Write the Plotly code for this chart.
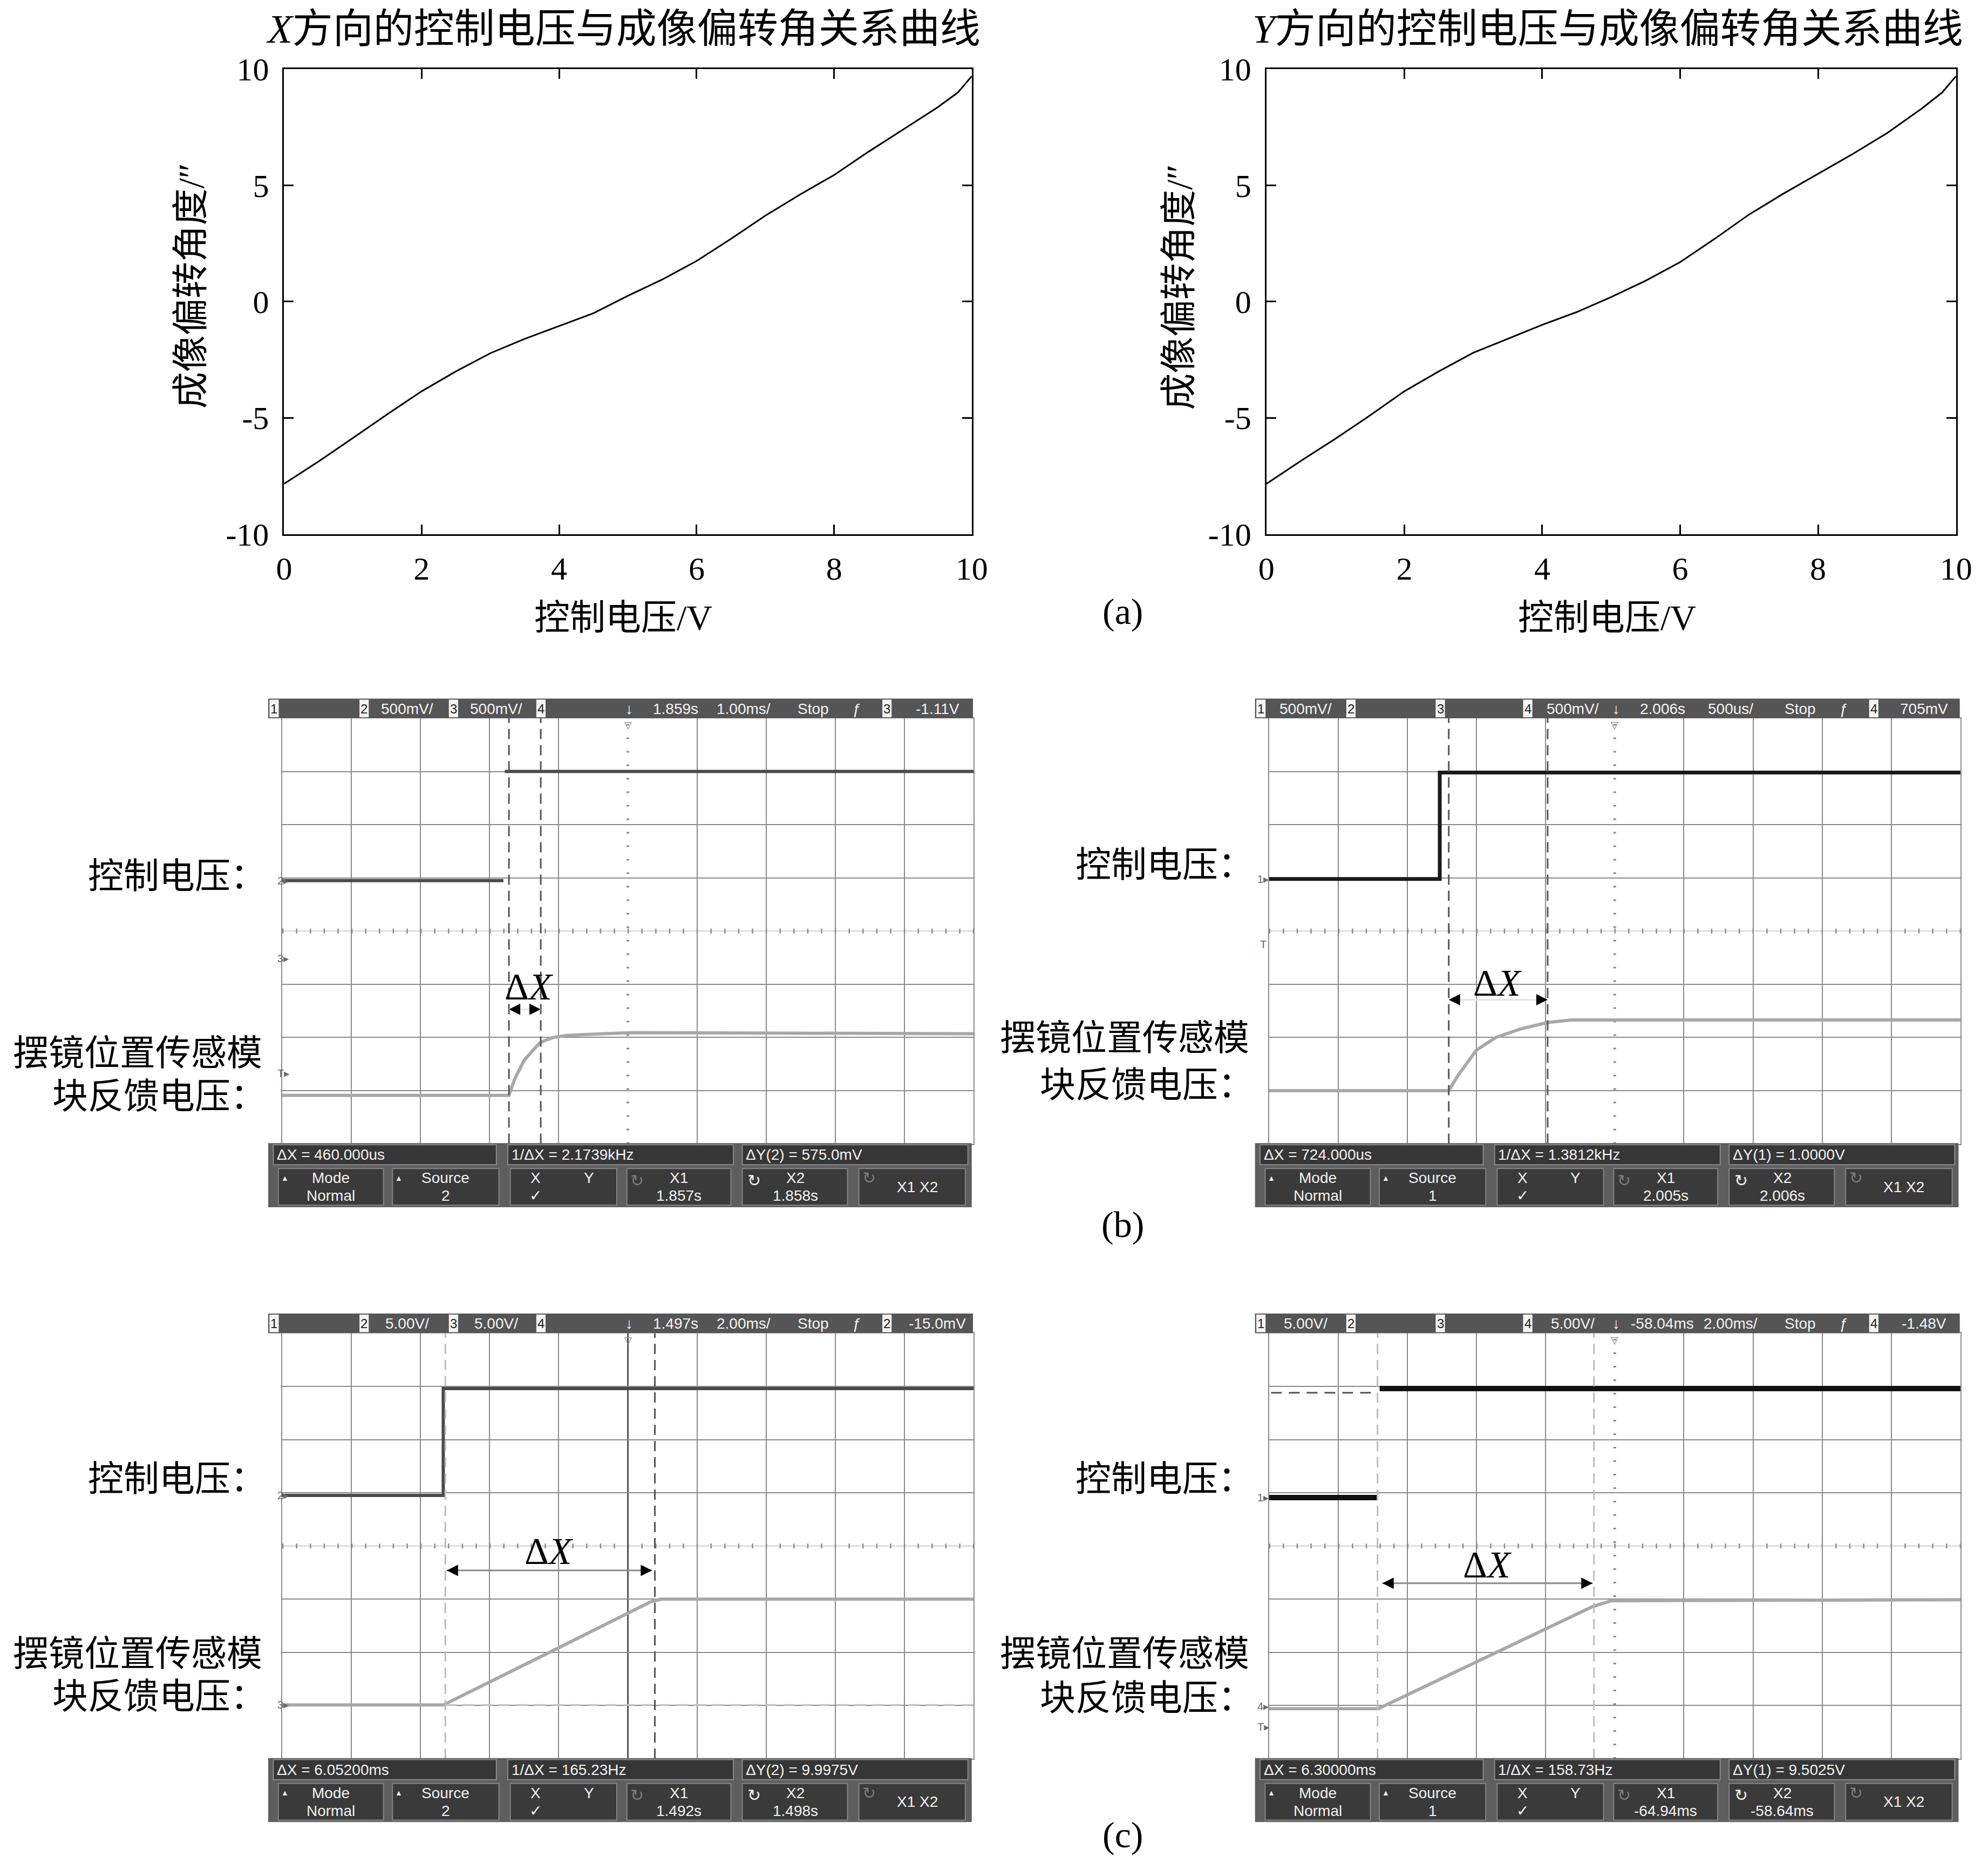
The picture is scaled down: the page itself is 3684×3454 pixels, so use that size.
import plotly.graph_objects as go

# ------------------------------------------------------------------ data
# (a) control voltage (V) vs imaging deflection angle (")
volt = [0, 0.5, 1, 1.5, 2, 2.5, 3, 3.5, 4, 4.5, 5, 5.5, 6, 6.5, 7, 7.5, 8, 8.5, 9, 9.5, 9.8, 10]
angle_x = [-7.84, -6.88, -5.87, -4.85, -3.86, -3.0, -2.22, -1.6, -1.05, -0.5, 0.25, 0.95,
           1.75, 2.7, 3.7, 4.6, 5.45, 6.45, 7.4, 8.35, 9.0, 9.7]
angle_y = [-7.84, -6.85, -5.9, -4.9, -3.86, -3.0, -2.2, -1.6, -1.0, -0.45, 0.2, 0.9,
           1.7, 2.7, 3.75, 4.65, 5.5, 6.35, 7.25, 8.3, 9.0, 9.7]
tick_x = [0, 2, 4, 6, 8, 10]
tick_y = [-10, -5, 0, 5, 10]
tick_y_text = ["-10", "-5", "0", "5", "10"]

# oscilloscope traces, in screen divisions (time: 0..10, voltage: 0..8)
bl_ctrl_t = [0.0, 3.20, None, 3.22, 10.0]
bl_ctrl_v = [4.95, 4.95, None, 7.00, 7.00]
bl_fb_t = [0.0, 3.28, 3.36, 3.50, 3.67, 3.74, 3.92, 4.12, 4.65, 5.06, 10.0]
bl_fb_v = [0.91, 0.91, 1.21, 1.57, 1.82, 1.91, 2.00, 2.04, 2.07, 2.09, 2.07]
bl_cursor_t = [3.28, 3.74]
bl_header = ["", "500mV/", "500mV/", "", "1.859s", "1.00ms/", "3", "-1.11V"]
bl_readout = ["ΔX = 460.000us", "1/ΔX = 2.1739kHz", "ΔY(2) = 575.0mV"]
bl_buttons = ["2", "1.857s", "1.858s"]

br_ctrl_t = [0.0, 2.47, 2.47, 10.0]
br_ctrl_v = [4.98, 4.98, 6.98, 6.98]
br_fb_t = [0.0, 2.60, 2.73, 3.00, 3.28, 3.64, 4.03, 4.38, 10.0]
br_fb_v = [1.00, 1.00, 1.28, 1.76, 2.00, 2.16, 2.28, 2.33, 2.33]
br_cursor_t = [2.60, 4.03]
br_header = ["500mV/", "", "", "500mV/", "2.006s", "500us/", "4", "705mV"]
br_readout = ["ΔX = 724.000us", "1/ΔX = 1.3812kHz", "ΔY(1) = 1.0000V"]
br_buttons = ["1", "2.005s", "2.006s"]

cl_ctrl_t = [0.0, 2.33, 2.33, 10.0]
cl_ctrl_v = [4.95, 4.95, 6.96, 6.96]
cl_fb_t = [0.0, 2.33, 3.82, 5.33, 5.48, 10.0]
cl_fb_v = [1.01, 1.01, 1.97, 2.95, 3.00, 3.00]
cl_cursor_t = [2.36, 5.39]
cl_ycursor_v = 1.01
cl_header = ["", "5.00V/", "5.00V/", "", "1.497s", "2.00ms/", "2", "-15.0mV"]
cl_readout = ["ΔX = 6.05200ms", "1/ΔX = 165.23Hz", "ΔY(2) = 9.9975V"]
cl_buttons = ["2", "1.492s", "1.498s"]

cr_ctrl_t = [0.0, 1.56, None, 1.60, 10.0]
cr_ctrl_v = [4.91, 4.91, None, 6.96, 6.96]
cr_fb_t = [0.0, 1.58, 4.68, 4.95, 10.0]
cr_fb_v = [0.94, 0.94, 2.86, 2.97, 2.99]
cr_cursor_t = [1.57, 4.70]
cr_ycursor_v = 6.88
cr_header = ["5.00V/", "", "", "5.00V/", "-58.04ms", "2.00ms/", "4", "-1.48V"]
cr_readout = ["ΔX = 6.30000ms", "1/ΔX = 158.73Hz", "ΔY(1) = 9.5025V"]
cr_buttons = ["1", "-64.94ms", "-58.64ms"]

# ------------------------------------------------------------------ helpers
W, H = 3684, 3454
S = W / 1568.0
# small empirical correction of the layout grid
KX, BX = 0.988, 9.2
KY, BY = 0.982, 17.4


def fx(d):
    return ((d - BX) / KX) * S / W


def fy(d):
    return 1.0 - ((d - BY) / KY) * S / H


SERIF = "Liberation Serif, Times New Roman, Noto Sans CJK SC, serif"
CJK = "Liberation Serif, Noto Sans CJK SC, serif"
SANS = "Liberation Sans, Arial, DejaVu Sans, sans-serif"
HF = 28  # scope UI font size

shapes = []
annos = []


def prect(x0, y0, x1, y1, fill, line=None, lw=0):
    shapes.append(dict(type='rect', xref='paper', yref='paper',
                       x0=fx(x0), x1=fx(x1), y0=fy(y1), y1=fy(y0),
                       fillcolor=fill, line=dict(color=line or fill, width=lw),
                       layer='above'))


def ptext(xd, yd, text, size, color='black', family=SANS, xanchor='center', **kw):
    annos.append(dict(xref='paper', yref='paper', x=fx(xd), y=fy(yd), text=text,
                      showarrow=False, xanchor=xanchor, yanchor='middle',
                      font=dict(size=size, color=color, family=family), **kw))


fig = go.Figure()

# ------------------------------------------------------------------ (a) curves
fig.add_trace(go.Scatter(x=volt, y=angle_x, mode='lines', line=dict(color='black', width=3),
                         xaxis='x', yaxis='y', hoverinfo='skip'))
fig.add_trace(go.Scatter(x=volt, y=angle_y, mode='lines', line=dict(color='black', width=3),
                         xaxis='x2', yaxis='y2', hoverinfo='skip'))

line_common = dict(showline=True, linecolor='black', linewidth=3, mirror='ticks',
                   ticks='inside', ticklen=18, tickwidth=3, tickcolor='black',
                   showgrid=False, zeroline=False, fixedrange=True,
                   tickfont=dict(family=SERIF, size=60, color='black'))

layout_axes = {}
for i, (xl, xr) in enumerate([(223.5, 766.0), (998.5, 1542.5)]):
    xn = 'xaxis' if i == 0 else 'xaxis2'
    yn = 'yaxis' if i == 0 else 'yaxis2'
    xs = 'x' if i == 0 else 'x2'
    ys = 'y' if i == 0 else 'y2'
    layout_axes[xn] = dict(domain=[fx(xl), fx(xr)], range=[0, 10], tickvals=tick_x,
                           anchor=ys, ticklabelstandoff=9, **line_common)
    layout_axes[yn] = dict(domain=[fy(422.0), fy(55.0)], range=[-10, 10], tickvals=tick_y,
                           ticktext=tick_y_text, anchor=xs, ticklabelstandoff=13, **line_common)

ptext(491, 23, "<i>X</i>方向的控制电压与成像偏转角关系曲线", 75, family=CJK)
ptext(1268, 23, "<i>Y</i>方向的控制电压与成像偏转角关系曲线", 75, family=CJK)
ptext(491, 488, "控制电压/V", 66, family=CJK)
ptext(1267, 488, "控制电压/V", 66, family=CJK)
ptext(150, 226, "成像偏转角度/″", 68, family=CJK, textangle=-90)
ptext(929.5, 227, "成像偏转角度/″", 68, family=CJK, textangle=-90)
ptext(885, 483, "(a)", 68, family=SERIF)
ptext(885, 967, "(b)", 68, family=SERIF)
ptext(885, 1449, "(c)", 68, family=SERIF)

# ------------------------------------------------------------------ scopes
SCOPES = [
    dict(x0=211.0, top=552.0, xa='x3', ya='y3',
         ctrl=(bl_ctrl_t, bl_ctrl_v), fb=(bl_fb_t, bl_fb_v), cur=bl_cursor_t,
         hdr=bl_header, rd=bl_readout, btn=bl_buttons,
         ctrl_color='#4a4a4a', ctrl_w=6, cur_color='#555555', vcenter='dot',
         dx_text=(3.57, 2.95), dx_arrow=(bl_cursor_t[0], bl_cursor_t[1], 2.53), shaft='#e6e6e6',
         marks=[("2▸", 4.95), ("3▸", 3.49), ("T▸", 1.32)],
         lab=(692, 832, 866, 207)),
    dict(x0=989.5, top=552.0, xa='x4', ya='y4',
         ctrl=(br_ctrl_t, br_ctrl_v), fb=(br_fb_t, br_fb_v), cur=br_cursor_t,
         hdr=br_header, rd=br_readout, btn=br_buttons,
         ctrl_color='#1a1a1a', ctrl_w=7, cur_color='#555555', vcenter='dot',
         dx_text=(3.31, 3.02), dx_arrow=(br_cursor_t[0], br_cursor_t[1], 2.71), shaft='#e6e6e6',
         marks=[("1▸", 4.98), ("T", 3.75)],
         lab=(683, 820, 857, 986)),
    dict(x0=211.0, top=1037.5, xa='x5', ya='y5',
         ctrl=(cl_ctrl_t, cl_ctrl_v), fb=(cl_fb_t, cl_fb_v), cur=cl_cursor_t,
         hdr=cl_header, rd=cl_readout, btn=cl_buttons,
         ctrl_color='#4a4a4a', ctrl_w=6, cur_color=['#bdbdbd', '#555555'], vcenter='solid',
         dx_text=(3.86, 3.90), dx_arrow=(2.38, 5.35, 3.54), shaft='#8a8a8a',
         marks=[("2▸", 4.95), ("3▸", 1.01)],
         ycur=(cl_ycursor_v, cl_cursor_t[0], 10.0, '#c4c4c4'),
         lab=(1168, 1306, 1340, 207)),
    dict(x0=989.5, top=1037.5, xa='x6', ya='y6',
         ctrl=(cr_ctrl_t, cr_ctrl_v), fb=(cr_fb_t, cr_fb_v), cur=cr_cursor_t,
         hdr=cr_header, rd=cr_readout, btn=cr_buttons,
         ctrl_color='#111111', ctrl_w=10, cur_color='#bdbdbd', vcenter='dot',
         dx_text=(3.16, 3.65), dx_arrow=(1.64, 4.68, 3.30), shaft='#8a8a8a',
         marks=[("1▸", 4.91), ("4▸", 0.98), ("T▸", 0.60)],
         ycur=(cr_ycursor_v, 0.03, cr_ctrl_t[1], '#555555'),
         lab=(1168, 1306, 1341, 986)),
]

GRID = '#8a8a8a'
HDR_BOX = [1.0, 72.0, 142.5, 211.5]
HDR_CH_TXT = [40.0, 109.5, 180.0, 250.5]

for p in SCOPES:
    x0, top, xa, ya = p['x0'], p['top'], p['xa'], p['ya']
    gx0, gx1 = x0 + 11.0, x0 + 556.5
    gy0, gy1 = top + 15.5, top + 351.5
    n = xa[1:]
    layout_axes['xaxis' + n] = dict(domain=[fx(gx0), fx(gx1)], range=[0, 10], anchor=ya,
                                    tickvals=[1, 2, 3, 4, 6, 7, 8, 9], showgrid=True,
                                    gridcolor=GRID, gridwidth=2, showline=True, mirror=True,
                                    linecolor=GRID, linewidth=2, zeroline=False,
                                    showticklabels=False, ticks='', fixedrange=True)
    layout_axes['yaxis' + n] = dict(domain=[fy(gy1), fy(gy0)], range=[0, 8], anchor=xa,
                                    tickvals=[1, 2, 3, 5, 6, 7], showgrid=True,
                                    gridcolor=GRID, gridwidth=2, showline=True, mirror=True,
                                    linecolor=GRID, linewidth=2, zeroline=False,
                                    showticklabels=False, ticks='', fixedrange=True)

    # centre graticule lines
    shapes.append(dict(type='line', xref=xa, yref=ya, x0=0, x1=10, y0=4, y1=4,
                       line=dict(color='#d0d0d0', width=2), layer='below'))
    shapes.append(dict(type='line', xref=xa, yref=ya, x0=0, x1=10, y0=4, y1=4,
                       line=dict(color='#8a8a8a', width=9, dash='2.5px,23.1px'), layer='below'))
    if p['vcenter'] == 'solid':
        shapes.append(dict(type='line', xref=xa, yref=ya, x0=5, x1=5, y0=0, y1=8,
                           line=dict(color='#555555', width=3), layer='below'))
    else:
        shapes.append(dict(type='line', xref=xa, yref=ya, x0=5, x1=5, y0=0, y1=8,
                           line=dict(color='#8a8a8a', width=5, dash='3px,22px'), layer='below'))

    # traces
    fig.add_trace(go.Scatter(x=p['fb'][0], y=p['fb'][1], mode='lines', xaxis=xa, yaxis=ya,
                             line=dict(color='#a8a8a8', width=6), hoverinfo='skip'))
    fig.add_trace(go.Scatter(x=p['ctrl'][0], y=p['ctrl'][1], mode='lines', xaxis=xa, yaxis=ya,
                             line=dict(color=p['ctrl_color'], width=p['ctrl_w']),
                             connectgaps=False, hoverinfo='skip'))

    # cursors
    cc = p['cur_color']
    for k, t in enumerate(p['cur']):
        col = cc[k] if isinstance(cc, list) else cc
        shapes.append(dict(type='line', xref=xa, yref=ya, x0=t, x1=t, y0=0, y1=8,
                           line=dict(color=col, width=3, dash='19px,11px'), layer='above'))
    if 'ycur' in p:
        v, t0, t1, col = p['ycur']
        shapes.append(dict(type='line', xref=xa, yref=ya, x0=t0, x1=t1, y0=v, y1=v,
                           line=dict(color=col, width=3, dash='20px,13px'), layer='above'))

    # ΔX label and arrow
    tx, ty = p['dx_text']
    annos.append(dict(xref=xa, yref=ya, x=tx, y=ty, text="Δ<i>X</i>", showarrow=False,
                      font=dict(family=SERIF, size=70, color='black')))
    a0, a1, av = p['dx_arrow']
    shapes.append(dict(type='line', xref=xa, yref=ya, x0=a0, x1=a1, y0=av, y1=av,
                       line=dict(color=p['shaft'], width=3), layer='above'))
    for tip, tail in ((a0, a0 + 0.13), (a1, a1 - 0.13)):
        annos.append(dict(xref=xa, yref=ya, x=tip, y=av, ax=tail, ay=av, axref=xa, ayref=ya,
                          text='', showarrow=True, arrowhead=2, arrowsize=1.4, arrowwidth=3,
                          arrowcolor='black', standoff=0, startstandoff=0))

    # channel markers left of graticule
    for txt, v in p['marks']:
        annos.append(dict(xref='paper', yref=ya, x=fx(x0 + 6.5), y=v, text=txt, showarrow=False,
                          font=dict(family=SANS, size=20, color='#6a6a6a')))
    # trigger position marker just below the header bar
    annos.append(dict(xref=xa, yref='paper', x=5, y=fy(gy0 + 1.0), text="▽", showarrow=False,
                      yanchor='top', borderpad=0,
                      font=dict(family=SANS, size=18, color='#777777')))

    # header bar
    prect(x0, top, x0 + 556, top + 15.5, '#555555')
    hy = top + 7.9
    for k, bx in enumerate(HDR_BOX):
        prect(x0 + bx, top + 0.8, x0 + bx + 7.3, top + 14.7, '#f4f4f4')
        ptext(x0 + bx + 3.65, hy, str(k + 1), 24, '#222222')
    hdr = p['hdr']
    for k, cx in enumerate(HDR_CH_TXT):
        if hdr[k]:
            ptext(x0 + cx, hy, hdr[k], HF, '#f4f4f4')
    ptext(x0 + 285, hy, "↓", HF, '#f4f4f4')
    ptext(x0 + 321.5, hy, hdr[4], HF, '#f4f4f4')
    ptext(x0 + 375, hy, hdr[5], HF, '#f4f4f4')
    ptext(x0 + 430, hy, "Stop", HF, '#f4f4f4')
    ptext(x0 + 464.5, hy, "ƒ", HF, '#f4f4f4')
    prect(x0 + 484.5, top + 0.8, x0 + 491.8, top + 14.7, '#f4f4f4')
    ptext(x0 + 488.2, hy, hdr[6], 24, '#222222')
    ptext(x0 + 528, hy, hdr[7], HF, '#f4f4f4')

    # footer
    fy0 = top + 351.0
    prect(x0, fy0, x0 + 555, fy0 + 50.5, '#5e5e5e')
    for (a, b) in ((4, 180), (189, 367), (374, 552)):
        prect(x0 + a, fy0 + 1.2, x0 + b, fy0 + 17, '#363636', '#8a8a8a', 2)
    for k, sx in enumerate((6, 191, 376)):
        ptext(x0 + sx, fy0 + 9.2, p['rd'][k], HF, '#f2f2f2', xanchor='left')
    for (a, b) in ((8, 91), (98, 182), (191, 275), (283, 365), (374, 457), (466, 550)):
        prect(x0 + a, fy0 + 20, x0 + b, fy0 + 49, '#3a3a3a', '#858585', 2)
    l1, l2, lm = fy0 + 27.5, fy0 + 41.5, fy0 + 34.5
    ptext(x0 + 13, l1, "▲", 14, '#f2f2f2')
    ptext(x0 + 49.5, l1, "Mode", HF, '#f2f2f2')
    ptext(x0 + 49.5, l2, "Normal", HF, '#f2f2f2')
    ptext(x0 + 103, l1, "▲", 14, '#f2f2f2')
    ptext(x0 + 140, l1, "Source", HF, '#f2f2f2')
    ptext(x0 + 140, l2, p['btn'][0], HF, '#f2f2f2')
    ptext(x0 + 211, l1, "X", HF, '#f2f2f2')
    ptext(x0 + 253, l1, "Y", HF, '#f2f2f2')
    ptext(x0 + 211, l2, "✓", HF, '#f2f2f2')
    ptext(x0 + 291, l1 + 2, "↻", 30, '#7a7a7a')
    ptext(x0 + 324, l1, "X1", HF, '#f2f2f2')
    ptext(x0 + 324, l2, p['btn'][1], HF, '#f2f2f2')
    ptext(x0 + 383.5, l1 + 2, "↻", 30, '#f2f2f2')
    ptext(x0 + 416, l1, "X2", HF, '#f2f2f2')
    ptext(x0 + 416, l2, p['btn'][2], HF, '#f2f2f2')
    ptext(x0 + 474, l1, "↻", 30, '#7a7a7a')
    ptext(x0 + 512, lm, "X1 X2", HF, '#f2f2f2')

    # side labels
    ly1, ly2, ly3, lx = p['lab']
    ptext(lx + 3, ly1, "控制电压：", 66, family=CJK, xanchor='right')
    ptext(lx, ly2, "摆镜位置传感模", 66, family=CJK, xanchor='right')
    ptext(lx + 3, ly3, "块反馈电压：", 66, family=CJK, xanchor='right')

fig.update_layout(width=W, height=H, margin=dict(l=0, r=0, t=0, b=0),
                  paper_bgcolor='white', plot_bgcolor='white', showlegend=False,
                  shapes=shapes, annotations=annos, **layout_axes)

fig.write_html("out.html")
